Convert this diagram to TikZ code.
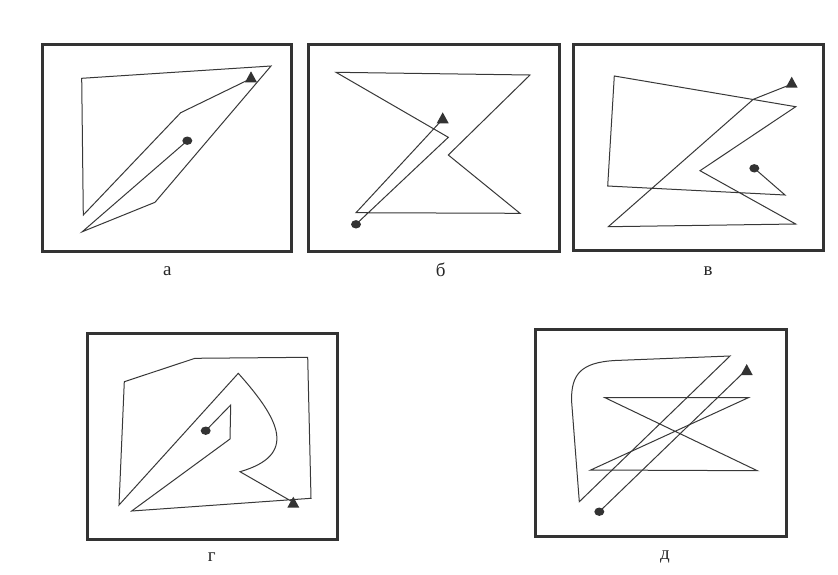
\documentclass[tikz,border=0pt]{standalone}
\usepackage{fontspec}
\setmainfont{Liberation Serif}
\begin{document}
\begin{tikzpicture}[x=1pt,y=-1pt,
  frame/.style={draw=black!80,line width=3pt},
  route/.style={draw=black!78,line width=1pt,line join=miter},
  lbl/.style={font=\fontsize{19}{19}\selectfont,text=black!85}]
\newcommand{\tri}[2]{\fill[black!80] (#1-6,#2+5) -- (#1+6,#2+5) -- (#1,#2-6) -- cycle;}
\newcommand{\dotmark}[2]{\fill[black!80] (#1,#2) ellipse [x radius=5pt, y radius=4.2pt];}
\fill[white] (0,0) rectangle (838,574);
\useasboundingbox (0,0) rectangle (838,574);

% panel a
\draw[frame] (42,44) rectangle (291.5,251);
\draw[route] (187.3,140.7) -- (82.3,231.7) -- (155,202.3) -- (271,66) -- (81.7,78.3) -- (83.3,215) -- (180.7,112.7) -- (249,79.5);
\dotmark{187.3}{140.7}
\tri{251}{77.3}
\node[lbl] (la) at (167.3,271) {а};

% panel b
\draw[frame] (308,44) rectangle (559,251);
\draw[route] (356,224.3) -- (448.3,137.3) -- (336,72.3) -- (530,75) -- (448.3,155) -- (520,213.3) -- (356,212.7) -- (441,121);
\dotmark{356}{224.3}
\tri{442.7}{118.3}
\node[lbl] (lb) at (440.7,269.5) {б};

% panel v
\draw[frame] (573,44) rectangle (823,250);
\draw[route] (754.3,168.3) -- (785,195) -- (607.7,186) -- (614.3,76) -- (795.7,106.7) -- (700,170.7) -- (795.7,224) -- (608.3,226.7) -- (753.3,99.3) -- (787.7,85.7);
\dotmark{754.3}{168.3}
\tri{791.7}{82.7}
\node[lbl] (lv) at (708,271) {в};

% panel g
\draw[frame] (87,333) rectangle (337,539);
\draw[route] (205.7,430.7) -- (230.7,405) -- (230,439) -- (131.7,511) -- (311,498.3) -- (307.7,357.3) -- (195,358.3) -- (124.3,381.7) -- (119,505) -- (238.3,373.3)
  .. controls (280,420) and (298,455) .. (240,471.7) -- (291,501);
\dotmark{205.7}{430.7}
\tri{293.3}{502.7}
\node[lbl] (lg) at (211.7,557.5) {г};

% panel d
\draw[frame] (535,329) rectangle (786.5,536);
\draw[route] (730,356) -- (615,360.5) .. controls (580,362.5) and (571.5,375) .. (571.5,400) -- (579.3,501.7) -- cycle;
\draw[route] (748.3,397.7) -- (605,397.7) -- (757.3,470.7) -- (590.7,470) -- cycle;
\draw[route] (599.3,511.7) -- (743,373);
\dotmark{599.3}{511.7}
\tri{746.7}{370}
\node[lbl] (ld) at (665,556.5) {д};
\end{tikzpicture}
\end{document}
